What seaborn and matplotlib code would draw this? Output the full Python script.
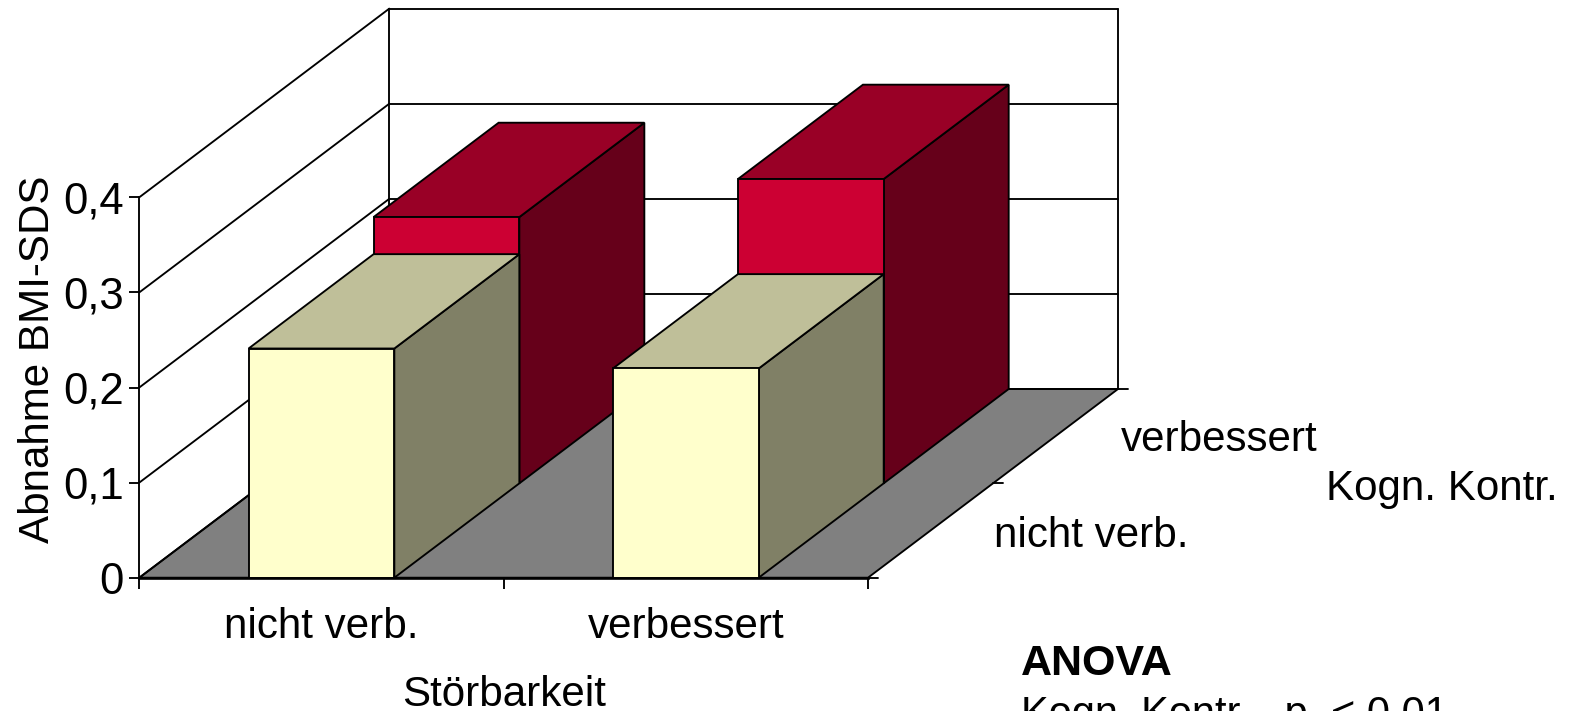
import matplotlib
matplotlib.use('Agg')
import matplotlib.pyplot as plt
import pandas as pd
import seaborn as sns
from matplotlib.patches import Polygon

# Stoerbarkeit on x, Kogn. Kontr. as depth rows
stoerbarkeit = ['nicht verb.', 'verbessert']
kontr_rows = ['nicht verb.', 'verbessert']
nicht_verb = [0.241, 0.22]
verbessert = [0.28, 0.32]
y_ticks = [0, 0.1, 0.2, 0.3, 0.4]
y_labels = ['0', '0,1', '0,2', '0,3', '0,4']

sns.set_style('white')
plt.rcParams['font.family'] = ['Liberation Sans', 'DejaVu Sans']
plt.rcParams['text.color'] = 'black'
plt.rcParams['axes.labelcolor'] = 'black'
plt.rcParams['xtick.color'] = 'black'
plt.rcParams['ytick.color'] = 'black'

W, H = 1573, 711
fig = plt.figure(figsize=(W / 100, H / 100), dpi=100)
left, right, bottom, top = 139.3, 868, 577.7, 197.3
ax = fig.add_axes([left / W, 1 - bottom / H, (right - left) / W, (bottom - top) / H])

# oblique shift for depth 1 (x units / value units)
DX = 250 / 364.35
DY = 188.7 / 951
BAR_W = 0.4
LW = 1.35
FS = 30.3


def pt(x, y, d):
    return (x + d * DX, y + d * DY)


def face(pts, color, z):
    ax.add_patch(Polygon(pts, closed=True, facecolor=color, edgecolor='black',
                         linewidth=LW, zorder=z, clip_on=False))


def bar_faces(xc, val, d0, d1, top_col, side_col, z):
    x0, x1 = xc - BAR_W / 2, xc + BAR_W / 2
    face([pt(x1, 0, d0), pt(x1, 0, d1), pt(x1, val, d1), pt(x1, val, d0)], side_col, z)
    face([pt(x0, val, d0), pt(x1, val, d0), pt(x1, val, d1), pt(x0, val, d1)], top_col, z)


# floor
xa, xb = -0.5, 1.5
face([pt(xa, 0, 0), pt(xb, 0, 0), pt(xb, 0, 1), pt(xa, 0, 1)], '#808080', 1)

# walls and grid
for t in y_ticks:
    ax.plot(*zip(pt(xa, t, 0), pt(xa, t, 1)), color='black', lw=LW, zorder=1.5, clip_on=False)
    ax.plot(*zip(pt(xa, t, 1), pt(xb, t, 1)), color='black', lw=LW, zorder=1.5, clip_on=False)
ax.plot(*zip(pt(xa, 0, 1), pt(xa, 0.4, 1)), color='black', lw=LW, zorder=1.5, clip_on=False)
ax.plot(*zip(pt(xb, 0, 1), pt(xb, 0.4, 1)), color='black', lw=LW, zorder=1.5, clip_on=False)

# little ticks on the depth axis
for d in [0, 0.5, 1]:
    x, y = pt(xb, 0, d)
    ax.plot([x, x + 10 / 364.35], [y, y], color='black', lw=LW, zorder=1.5, clip_on=False)

# back row (red)
for i, v in enumerate(verbessert):
    bar_faces(i, v, 0.5, 1, '#990026', '#66001A', 2)
    x0, x1 = i - BAR_W / 2, i + BAR_W / 2
    face([pt(x0, 0, 0.5), pt(x1, 0, 0.5), pt(x1, v, 0.5), pt(x0, v, 0.5)], '#CC0033', 2.2)

# front row (yellow)
for i, v in enumerate(nicht_verb):
    bar_faces(i, v, 0, 0.5, '#BFBF99', '#808066', 3)

df = pd.DataFrame({'stoerbarkeit': stoerbarkeit, 'abnahme': nicht_verb})
sns.barplot(data=df, x='stoerbarkeit', y='abnahme', color='#FFFFCC', saturation=1,
            width=BAR_W, edgecolor='black', linewidth=LW, zorder=4, ax=ax)

ax.set_xlim(xa, xb)
ax.set_ylim(0, 0.4)
ax.set_yticks(y_ticks)
ax.set_yticklabels(y_labels, fontsize=31.5)
ax.set_xticks([-0.5, 0.5, 1.5])
ax.set_xticklabels([])
ax.set_xticks([0, 1], minor=True)
ax.set_xticklabels(stoerbarkeit, minor=True, fontsize=FS)
ax.tick_params(axis='y', which='major', length=7.2, width=LW, pad=4, left=True)
ax.tick_params(axis='x', which='major', length=7.6, width=LW, bottom=True)
ax.tick_params(axis='x', which='minor', length=0, pad=21, bottom=True)
for s in ['top', 'right']:
    ax.spines[s].set_visible(False)
for s in ['left', 'bottom']:
    ax.spines[s].set_color('black')
    ax.spines[s].set_linewidth(LW)
    ax.spines[s].set_zorder(5)
ax.spines['bottom'].set_linewidth(1.9)
ax.patch.set_alpha(0)

ax.set_ylabel('Abnahme BMI-SDS', fontsize=FS)
ax.yaxis.set_label_coords(-0.111, 0.575)
ax.set_xlabel('Störbarkeit', fontsize=FS)
ax.xaxis.set_label_coords(0.5, -0.257)

# depth axis labels
fig.text(1121 / W, 1 - 440 / H, kontr_rows[1], fontsize=FS, va='center')
fig.text(994 / W, 1 - 536 / H, kontr_rows[0], fontsize=FS, va='center')
fig.text(1326 / W, 1 - 489 / H, 'Kogn. Kontr.', fontsize=FS, va='center')

# ANOVA note, second line is cut by the lower edge as in the source
fig.text(1021 / W, 1 - 675 / H, 'ANOVA', fontsize=31, fontweight='bold', va='baseline')
fig.text(1021 / W, 1 - 726 / H, 'Kogn. Kontr.   p  < 0,01', fontsize=30, va='baseline')

fig.savefig('out.png', dpi=100)
